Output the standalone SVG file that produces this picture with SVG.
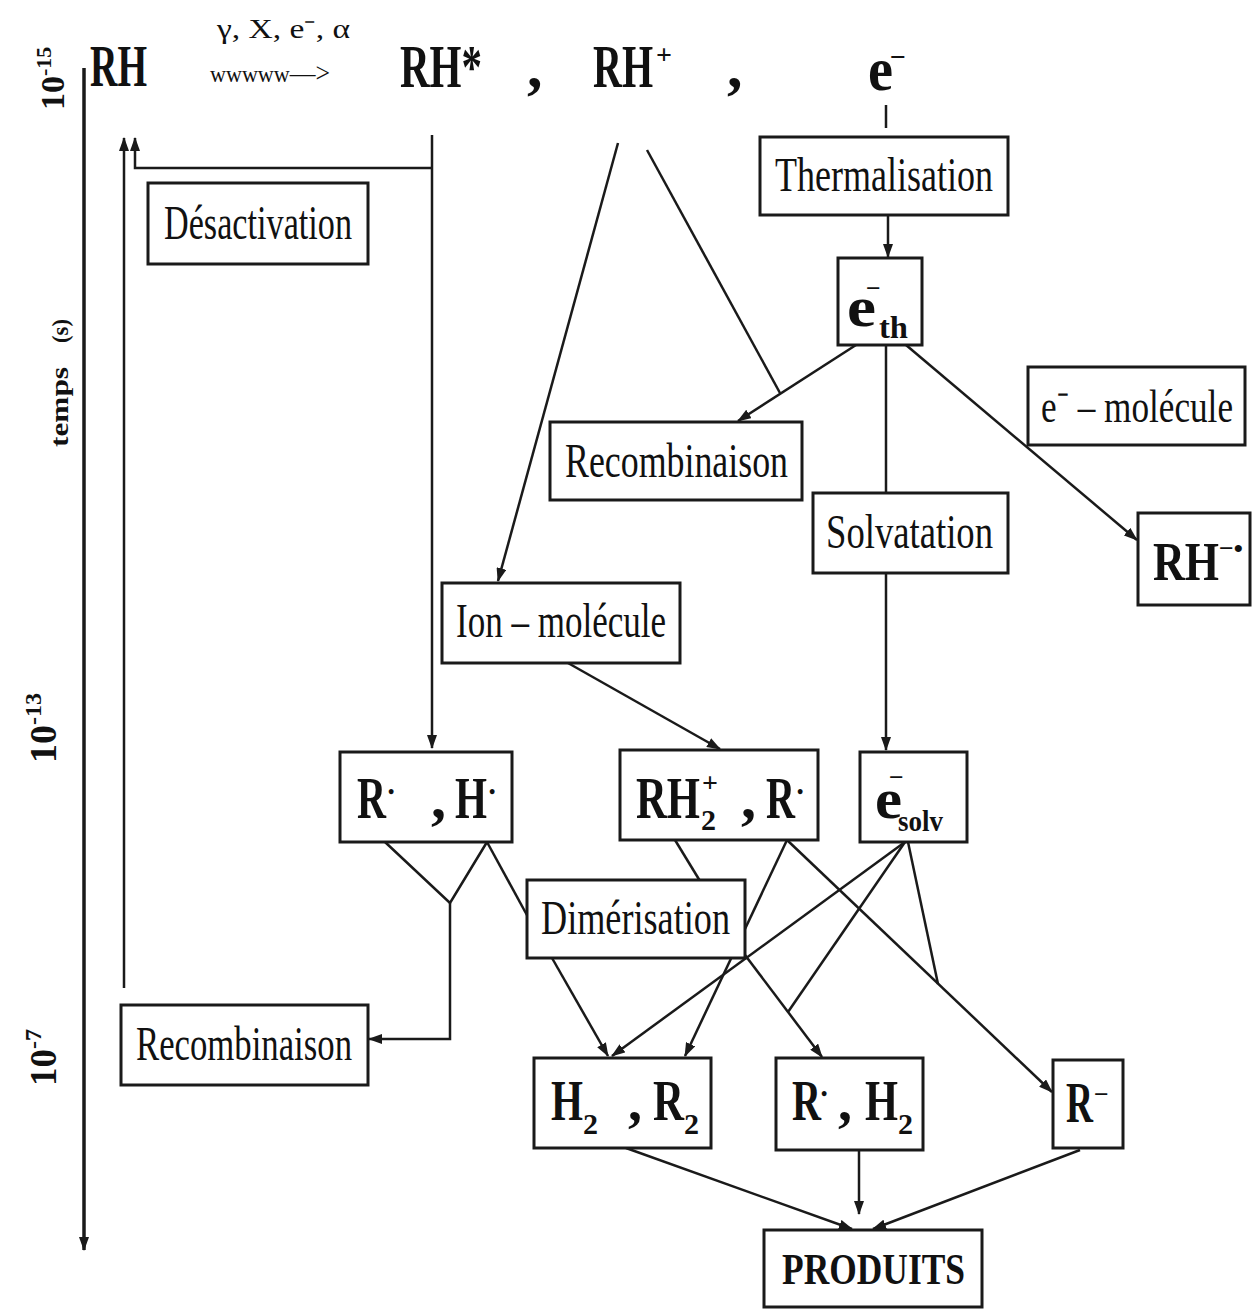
<svg xmlns="http://www.w3.org/2000/svg" width="1253" height="1310" viewBox="0 0 1253 1310">
<defs>
<style>
.b{font-family:"Liberation Serif","Times New Roman",serif;font-weight:bold;fill:#111}
.r{font-family:"Liberation Serif","Times New Roman",serif;fill:#111}
.box{fill:#fff;stroke:#1a1a1a;stroke-width:3}
.c{fill:none;stroke:#1a1a1a;stroke-width:2.5}
.a{marker-end:url(#ah)}
</style>
<marker id="ah" viewBox="0 0 14 10" refX="13" refY="5" markerWidth="14" markerHeight="10" markerUnits="userSpaceOnUse" orient="auto">
<path d="M0,0 L14,5 L0,10 z" fill="#1a1a1a"/>
</marker>
</defs>
<rect width="1253" height="1310" fill="#fff"/>

<g id="axis">
<path d="M84,68 V1250" fill="none" stroke="#1a1a1a" stroke-width="3.5" marker-end="url(#ah)"/>
<text class="b" font-size="34" transform="translate(64,110) rotate(-90)">10<tspan font-size="22" dy="-13">-15</tspan></text>
<text class="b" font-size="26" transform="translate(68,447) rotate(-90)" textLength="80" lengthAdjust="spacingAndGlyphs">temps</text>
<text class="b" font-size="24" transform="translate(68,343) rotate(-90)" textLength="24" lengthAdjust="spacingAndGlyphs">(s)</text>
<text class="b" font-size="38" transform="translate(56,763) rotate(-90)">10<tspan font-size="24" dy="-15">-13</tspan></text>
<text class="b" font-size="37" transform="translate(56,1086) rotate(-90)">10<tspan font-size="24" dy="-15">-7</tspan></text>
</g>

<g id="top">
<text class="b" x="90" y="86" font-size="60" textLength="57" lengthAdjust="spacingAndGlyphs">RH</text>
<text class="r" x="217" y="38" font-size="27" textLength="133" lengthAdjust="spacingAndGlyphs">γ, X, e⁻, α</text>
<text class="r" x="210" y="82" textLength="120" lengthAdjust="spacingAndGlyphs"><tspan font-size="24">wwwww</tspan><tspan font-size="28">—&gt;</tspan></text>
<text class="b" x="400" y="87" font-size="62" textLength="82" lengthAdjust="spacingAndGlyphs">RH*</text>
<text class="b" x="527" y="87" font-size="62">,</text>
<text class="b" x="593" y="87" font-size="62" textLength="60" lengthAdjust="spacingAndGlyphs">RH</text>
<text class="b" x="656" y="64" font-size="28">+</text>
<text class="b" x="727" y="87" font-size="62">,</text>
<text class="b" x="868" y="90" font-size="62" textLength="25" lengthAdjust="spacingAndGlyphs">e</text>
<text class="b" x="890" y="66" font-size="28">−</text>
</g>

<g id="connectors">
<path class="c a" d="M124,988 V138"/>
<path class="c a" d="M432,135 V748"/>
<path class="c a" d="M432,168 H135 V138"/>
<path class="c" d="M886,105 V128"/>
<path class="c a" d="M888,215 V257"/>
<path class="c a" d="M856,345 L738,421"/>
<path class="c" d="M647,150 L780,393"/>
<path class="c a" d="M618,143 L498,581"/>
<path class="c" d="M886,345 V493"/>
<path class="c a" d="M886,573 V750"/>
<path class="c a" d="M906,345 L1137,540"/>
<path class="c a" d="M568,663 L720,749"/>
<path class="c" d="M385,842 L450,903 L487,842"/>
<path class="c a" d="M450,903 V1039 H369"/>
<path class="c" d="M487,842 L528,917"/>
<path class="c" d="M675,840 L700,881"/>
<path class="c a" d="M552,958 L608,1056"/>
<path class="c a" d="M745,955 L822,1057"/>
<path class="c a" d="M787,840 L685,1056"/>
<path class="c a" d="M905,842 L612,1056"/>
<path class="c" d="M905,842 L788,1012"/>
<path class="c a" d="M787,840 L1052,1092"/>
<path class="c" d="M908,842 L938,984"/>
<path class="c a" d="M626,1148 L852,1229"/>
<path class="c a" d="M859,1150 V1214"/>
<path class="c a" d="M1080,1150 L873,1229"/>
</g>

<g id="n-desactivation">
<rect class="box" x="148" y="183" width="220" height="81"/>
<text class="r" x="164" y="239" font-size="48" textLength="188" lengthAdjust="spacingAndGlyphs">Désactivation</text>
</g>
<g id="n-thermalisation">
<rect class="box" x="760" y="137" width="248" height="78"/>
<text class="r" x="775" y="191" font-size="48" textLength="218" lengthAdjust="spacingAndGlyphs">Thermalisation</text>
</g>
<g id="n-eth">
<rect class="box" x="838" y="258" width="84" height="87"/>
<text class="b" x="847" y="326" font-size="58" textLength="29" lengthAdjust="spacingAndGlyphs">e</text>
<text class="b" x="866" y="297" font-size="26">−</text>
<text class="b" x="879" y="338" font-size="32" textLength="29" lengthAdjust="spacingAndGlyphs">th</text>
</g>
<g id="n-recomb1">
<rect class="box" x="550" y="422" width="252" height="78"/>
<text class="r" x="565" y="477" font-size="48" textLength="223" lengthAdjust="spacingAndGlyphs">Recombinaison</text>
</g>
<g id="n-emolecule">
<rect class="box" x="1028" y="367" width="217" height="78"/>
<text class="r" x="1041" y="422" font-size="46" textLength="192" lengthAdjust="spacingAndGlyphs">e⁻ – molécule</text>
</g>
<g id="n-solvatation">
<rect class="box" x="813" y="493" width="195" height="80"/>
<text class="r" x="826" y="548" font-size="48" textLength="167" lengthAdjust="spacingAndGlyphs">Solvatation</text>
</g>
<g id="n-rhminus">
<rect class="box" x="1138" y="513" width="112" height="92"/>
<text class="b" x="1153" y="580" font-size="54" textLength="66" lengthAdjust="spacingAndGlyphs">RH</text>
<text class="b" x="1219" y="557" font-size="26">−•</text>
</g>
<g id="n-ionmolecule">
<rect class="box" x="442" y="583" width="238" height="80"/>
<text class="r" x="456" y="637" font-size="48" textLength="210" lengthAdjust="spacingAndGlyphs">Ion – molécule</text>
</g>
<g id="n-rh">
<rect class="box" x="340" y="752" width="172" height="90"/>
<text class="b" x="357" y="818" font-size="60" textLength="29" lengthAdjust="spacingAndGlyphs">R</text>
<text class="b" x="388" y="798" font-size="18">•</text>
<text class="b" x="431" y="818" font-size="60">,</text>
<text class="b" x="455" y="818" font-size="60" textLength="32" lengthAdjust="spacingAndGlyphs">H</text>
<text class="b" x="489" y="798" font-size="18">•</text>
</g>
<g id="n-rh2r">
<rect class="box" x="620" y="750" width="198" height="90"/>
<text class="b" x="636" y="818" font-size="60" textLength="64" lengthAdjust="spacingAndGlyphs">RH</text>
<text class="b" x="701" y="830" font-size="30">2</text>
<text class="b" x="702" y="792" font-size="28">+</text>
<text class="b" x="741" y="818" font-size="60">,</text>
<text class="b" x="766" y="818" font-size="60" textLength="29" lengthAdjust="spacingAndGlyphs">R</text>
<text class="b" x="797" y="798" font-size="18">•</text>
</g>
<g id="n-esolv">
<rect class="box" x="860" y="752" width="107" height="90"/>
<text class="b" x="875" y="818" font-size="58" textLength="27" lengthAdjust="spacingAndGlyphs">e</text>
<text class="b" x="889" y="786" font-size="26">−</text>
<text class="b" x="898" y="831" font-size="30" textLength="45" lengthAdjust="spacingAndGlyphs">solv</text>
</g>
<g id="n-dimerisation">
<rect class="box" x="527" y="880" width="218" height="78"/>
<text class="r" x="541" y="934" font-size="48" textLength="189" lengthAdjust="spacingAndGlyphs">Dimérisation</text>
</g>
<g id="n-recomb2">
<rect class="box" x="121" y="1005" width="247" height="80"/>
<text class="r" x="136" y="1060" font-size="48" textLength="216" lengthAdjust="spacingAndGlyphs">Recombinaison</text>
</g>
<g id="n-h2r2">
<rect class="box" x="534" y="1058" width="177" height="90"/>
<text class="b" x="551" y="1120" font-size="56" textLength="32" lengthAdjust="spacingAndGlyphs">H</text>
<text class="b" x="583" y="1134" font-size="30">2</text>
<text class="b" x="628" y="1120" font-size="56">,</text>
<text class="b" x="653" y="1120" font-size="56" textLength="31" lengthAdjust="spacingAndGlyphs">R</text>
<text class="b" x="684" y="1134" font-size="30">2</text>
</g>
<g id="n-rh2">
<rect class="box" x="776" y="1058" width="147" height="92"/>
<text class="b" x="792" y="1120" font-size="56" textLength="29" lengthAdjust="spacingAndGlyphs">R</text>
<text class="b" x="821" y="1100" font-size="18">•</text>
<text class="b" x="838" y="1120" font-size="56">,</text>
<text class="b" x="865" y="1120" font-size="56" textLength="33" lengthAdjust="spacingAndGlyphs">H</text>
<text class="b" x="898" y="1134" font-size="30">2</text>
</g>
<g id="n-rminus">
<rect class="box" x="1053" y="1060" width="70" height="88"/>
<text class="b" x="1066" y="1122" font-size="56" textLength="27" lengthAdjust="spacingAndGlyphs">R</text>
<text class="b" x="1094" y="1103" font-size="26">−</text>
</g>
<g id="n-produits">
<rect class="box" x="764" y="1230" width="218" height="77"/>
<text class="b" x="782" y="1284" font-size="44" textLength="183" lengthAdjust="spacingAndGlyphs">PRODUITS</text>
</g>
</svg>
